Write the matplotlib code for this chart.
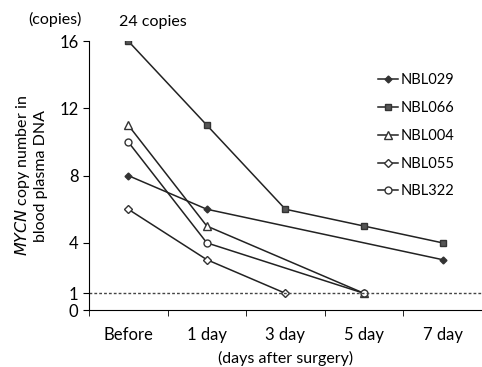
import matplotlib.pyplot as plt
import numpy as np

# categories on the x axis
days = ['Before', '1 day', '3 day', '5 day', '7 day']

# copy numbers per patient (None = not measured)
nbl029 = [8, 6, None, None, 3]
nbl066 = [16, 11, 6, 5, 4]
nbl004 = [11, 5, None, 1, None]
nbl055 = [6, 3, 1, None, None]
nbl322 = [10, 4, None, 1, None]

series = [
    ('NBL029', nbl029, dict(marker='D', markersize=3.5, mfc='#333333', mec='#333333')),
    ('NBL066', nbl066, dict(marker='s', markersize=5, mfc='#555555', mec='#333333')),
    ('NBL004', nbl004, dict(marker='^', markersize=6, mfc='white', mec='#333333')),
    ('NBL055', nbl055, dict(marker='D', markersize=4.5, mfc='white', mec='#333333')),
    ('NBL322', nbl322, dict(marker='o', markersize=5, mfc='white', mec='#333333')),
]

plt.rcParams['font.family'] = ['Lato', 'DejaVu Sans']

fig = plt.figure(figsize=(4.82, 3.67), dpi=100)
ax = fig.add_axes([0.1846, 0.155, 0.815, 0.733])

for name, vals, style in series:
    xs = [i for i, v in enumerate(vals) if v is not None]
    ys = [v for v in vals if v is not None]
    ax.plot(xs, ys, color='#222222', linewidth=1.1, label=name, **style)

# cut-off line at 1 copy
ax.axhline(1, color='#444444', linestyle=(0, (2, 1.5)), linewidth=1)

ax.set_xlim(-0.5, 4.5)
ax.set_ylim(0, 16)
ax.set_yticks([0, 1, 4, 8, 12, 16])
ax.set_xticks(np.arange(len(days)))
ax.set_xticklabels(days)
ax.set_xticks(np.arange(-0.5, 5, 1), minor=True)
ax.tick_params(axis='x', which='major', length=0, pad=12, labelsize=12)
ax.tick_params(axis='x', which='minor', length=4, direction='out')
ax.tick_params(axis='y', length=4, direction='out', labelsize=12)

ax.spines['top'].set_visible(False)
ax.spines['right'].set_visible(False)

ax.set_ylabel('$\\it{MYCN}$ copy number in\nblood plasma DNA', fontsize=11.5, labelpad=8)
ax.set_xlabel('(days after surgery)', fontsize=11.5, labelpad=6)

fig.text(0.114, 0.948, '(copies)', fontsize=11.5, ha='center', va='center')
ax.text(-0.12, 16.7, '24 copies', fontsize=11.5, ha='left', va='bottom')

ax.legend(loc='upper right', bbox_to_anchor=(0.965, 0.93), frameon=False,
          handlelength=1.4, handletextpad=0.2, labelspacing=0.95, fontsize=10.5)

fig.savefig('out.png', dpi=100)
